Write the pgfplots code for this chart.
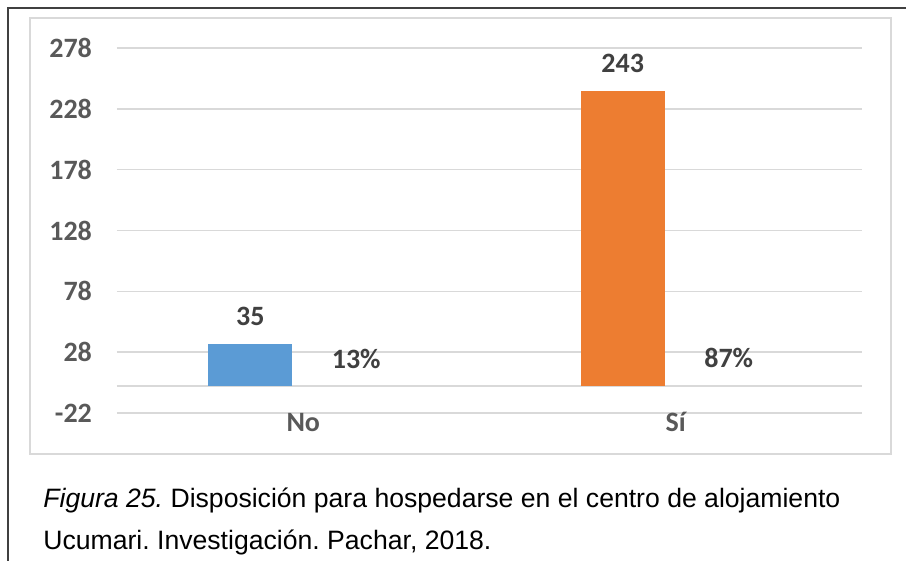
\documentclass[border=0pt]{standalone}
\usepackage{pgfplots}
\pgfplotsset{compat=1.18}
\usepackage{fontspec}
\setmainfont{Carlito}
\newfontfamily\arial{Liberation Sans}
\definecolor{barblue}{HTML}{5B9BD5}
\definecolor{barorange}{HTML}{ED7D31}
\definecolor{gridgray}{HTML}{D9D9D9}
\definecolor{ticklab}{HTML}{595959}
\definecolor{datalab}{HTML}{404040}
\definecolor{outerc}{HTML}{404040}
\frenchspacing
\begin{document}
\begin{tikzpicture}[x=0.5pt,y=-0.5pt]
\path[use as bounding box] (0,0) rectangle (906,561);
\draw[outerc, line width=1pt] (906,8) -- (8,8) -- (8,561);
\draw[gridgray, line width=0.7pt] (30,18) rectangle (891,454);
\coordinate (A) at (117,413);
\begin{axis}[
  at={(A)}, anchor=south west,
  scale only axis, width=372.5pt, height=182.5pt,
  xmin=-0.5, xmax=1.5, ymin=-22, ymax=278,
  axis line style={draw=none},
  major tick length=0pt, tick style={draw=none},
  ytick={-22,28,78,128,178,228,278},
  yticklabels={-22,28,78,128,178,228,278},
  extra y ticks={0}, extra y tick labels={},
  extra y tick style={grid=major},
  ymajorgrids,
  grid style={gridgray, line width=0.75pt},
  xtick={0,1}, xticklabels={No,Sí},
  yticklabel style={font=\bfseries\fontsize{14}{16}\selectfont, text=ticklab, xshift=-9pt},
  xticklabel style={font=\bfseries\fontsize{14}{16}\selectfont, text=ticklab, anchor=base, yshift=-9.5pt},
  every node near coord/.append style={anchor=base, yshift=9pt, font=\bfseries\fontsize{14}{16}\selectfont, text=datalab},
  clip=false,
]
\addplot[ybar, bar width=0.226, bar shift=-0.142, fill=barblue, draw=none,
  point meta=explicit symbolic, nodes near coords, nodes near coords style={xshift=-26.5pt}] coordinates {(0,35) [35]};
\addplot[ybar, bar width=0.226, bar shift=-0.142, fill=barorange, draw=none,
  point meta=explicit symbolic, nodes near coords, nodes near coords style={xshift=-26.5pt}] coordinates {(1,243) [243]};
\addplot[ybar, bar width=0.226, bar shift=0.142, fill=none, draw=none,
  point meta=explicit symbolic, nodes near coords, nodes near coords style={xshift=26.5pt}] coordinates {(0,0.13) [13\%] (1,0.87) [87\%]};
\end{axis}
\node[anchor=base west, inner sep=0, font=\arial\fontsize{13.3}{15}\selectfont] at (43,508) {\textit{Figura 25.} Disposición para hospedarse en el centro de alojamiento};
\node[anchor=base west, inner sep=0, font=\arial\fontsize{13.3}{15}\selectfont] at (43,549) {Ucumari. Investigación. Pachar, 2018.};
\end{tikzpicture}
\end{document}
